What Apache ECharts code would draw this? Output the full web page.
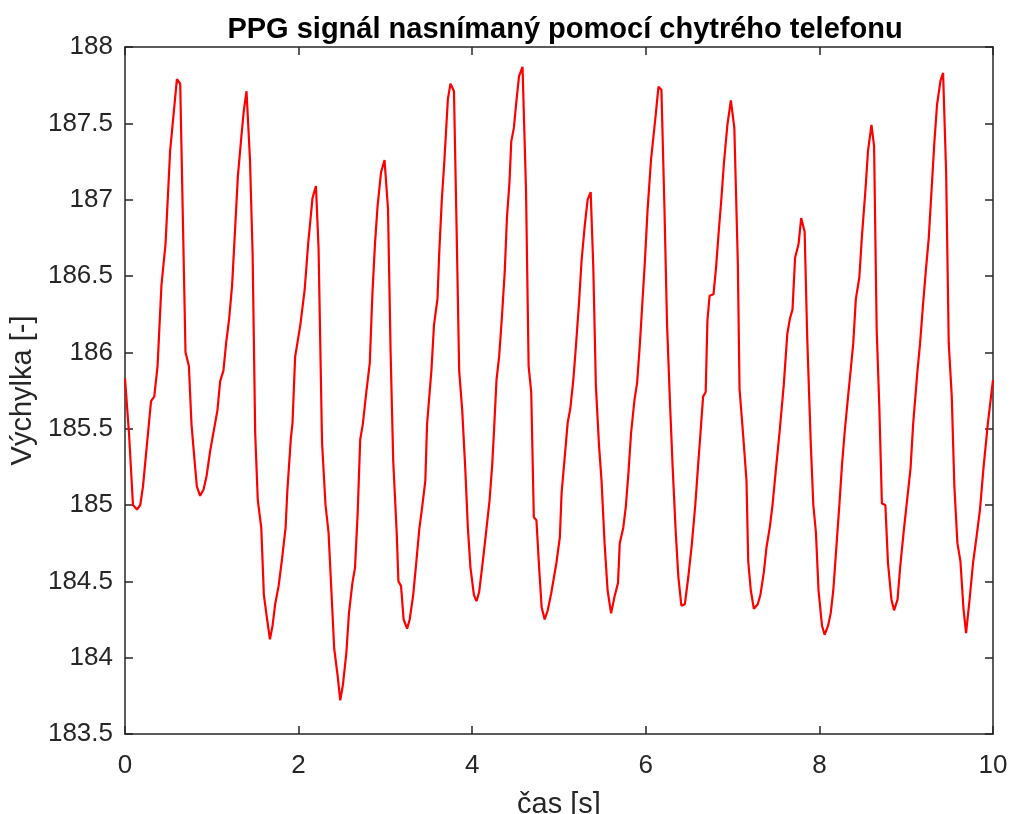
<!DOCTYPE html>
<html>
<head>
<meta charset="utf-8">
<title>PPG signál</title>
<script src="https://cdn.jsdelivr.net/npm/echarts@6/dist/echarts.min.js"></script>
<style>
  html, body { margin: 0; padding: 0; background: #fff; }
  #chart { width: 1010px; height: 814px; }
</style>
</head>
<body>
<div id="chart"></div>
<script>
// cas [s]
var casS = [
  0.00, 0.046, 0.092, 0.138, 0.176, 0.207, 0.245, 0.30, 0.337, 0.375,
  0.42, 0.467, 0.52, 0.598, 0.636, 0.697, 0.736, 0.766, 0.797, 0.828,
  0.866, 0.904, 0.94, 0.98, 1.027, 1.065, 1.096, 1.134, 1.165, 1.20,
  1.234, 1.264, 1.30, 1.34, 1.37, 1.40, 1.44, 1.47, 1.50, 1.53,
  1.57, 1.60, 1.64, 1.67, 1.70, 1.73, 1.77, 1.81, 1.85, 1.87,
  1.91, 1.93, 1.96, 2.02, 2.07, 2.11, 2.16, 2.20, 2.23, 2.27,
  2.31, 2.345, 2.41, 2.45, 2.48, 2.51, 2.55, 2.58, 2.62, 2.65,
  2.68, 2.71, 2.74, 2.78, 2.82, 2.85, 2.88, 2.91, 2.95, 2.99,
  3.03, 3.06, 3.09, 3.13, 3.15, 3.18, 3.21, 3.25, 3.28, 3.32,
  3.36, 3.39, 3.42, 3.46, 3.48, 3.53, 3.56, 3.60, 3.62, 3.65,
  3.68, 3.72, 3.75, 3.79, 3.82, 3.85, 3.885, 3.92, 3.95, 3.98,
  4.02, 4.05, 4.08, 4.12, 4.16, 4.20, 4.23, 4.25, 4.28, 4.31,
  4.34, 4.375, 4.40, 4.43, 4.45, 4.48, 4.51, 4.54, 4.58, 4.62,
  4.65, 4.68, 4.71, 4.74, 4.77, 4.80, 4.835, 4.87, 4.91, 4.97,
  5.01, 5.03, 5.07, 5.10, 5.13, 5.165, 5.195, 5.23, 5.26, 5.295,
  5.33, 5.365, 5.395, 5.425, 5.46, 5.49, 5.525, 5.56, 5.60, 5.64,
  5.68, 5.70, 5.74, 5.77, 5.80, 5.83, 5.87, 5.90, 5.93, 5.96,
  5.99, 6.02, 6.06, 6.115, 6.146, 6.18, 6.215, 6.245, 6.28, 6.31,
  6.345, 6.375, 6.41, 6.45, 6.49, 6.53, 6.57, 6.60, 6.63, 6.66,
  6.69, 6.71, 6.735, 6.78, 6.81, 6.84, 6.87, 6.90, 6.94, 6.98,
  7.02, 7.06, 7.08, 7.12, 7.16, 7.18, 7.21, 7.245, 7.29, 7.32,
  7.36, 7.39, 7.43, 7.46, 7.50, 7.54, 7.59, 7.63, 7.66, 7.69,
  7.72, 7.76, 7.79, 7.83, 7.86, 7.90, 7.93, 7.96, 7.99, 8.03,
  8.06, 8.10, 8.13, 8.16, 8.19, 8.23, 8.26, 8.29, 8.33, 8.36,
  8.39, 8.42, 8.46, 8.49, 8.53, 8.56, 8.60, 8.63, 8.66, 8.69,
  8.72, 8.76, 8.79, 8.83, 8.86, 8.90, 8.93, 8.97, 9.01, 9.05,
  9.08, 9.13, 9.16, 9.195, 9.23, 9.26, 9.295, 9.325, 9.355, 9.395,
  9.425, 9.46, 9.49, 9.525, 9.555, 9.59, 9.625, 9.66, 9.69, 9.73,
  9.77, 9.81, 9.85, 9.89, 9.94, 10.00
];

// vychylka [-]
var vychylka = [
  185.83, 185.47, 185.00, 184.97, 185.00, 185.12, 185.35, 185.68, 185.71, 185.91,
  186.44, 186.71, 187.32, 187.79, 187.76, 186.00, 185.91, 185.53, 185.32, 185.12,
  185.06, 185.10, 185.19, 185.35, 185.50, 185.62, 185.81, 185.88, 186.06, 186.22,
  186.44, 186.76, 187.15, 187.41, 187.59, 187.71, 187.26, 186.65, 185.47, 185.03,
  184.85, 184.41, 184.24, 184.12, 184.21, 184.35, 184.47, 184.65, 184.85, 185.09,
  185.43, 185.54, 185.97, 186.18, 186.41, 186.71, 187.01, 187.09, 186.68, 185.41,
  185.00, 184.82, 184.06, 183.88, 183.72, 183.82, 184.03, 184.29, 184.49, 184.59,
  184.94, 185.43, 185.53, 185.74, 185.93, 186.38, 186.71, 186.96, 187.18, 187.26,
  186.94, 186.00, 185.29, 184.82, 184.50, 184.47, 184.25, 184.19, 184.25, 184.41,
  184.65, 184.84, 184.97, 185.16, 185.53, 185.88, 186.18, 186.35, 186.65, 187.00,
  187.26, 187.66, 187.76, 187.71, 186.82, 185.88, 185.62, 185.24, 184.85, 184.59,
  184.41, 184.37, 184.43, 184.62, 184.82, 185.03, 185.26, 185.47, 185.82, 185.97,
  186.21, 186.53, 186.88, 187.12, 187.38, 187.47, 187.65, 187.81, 187.87, 187.06,
  185.91, 185.74, 184.92, 184.90, 184.60, 184.33, 184.25, 184.31, 184.42, 184.62,
  184.79, 185.08, 185.34, 185.54, 185.63, 185.82, 186.04, 186.32, 186.60, 186.82,
  187.00, 187.05, 186.56, 185.78, 185.40, 185.16, 184.75, 184.44, 184.29, 184.40,
  184.49, 184.75, 184.85, 184.99, 185.21, 185.47, 185.69, 185.80, 186.04, 186.32,
  186.60, 186.93, 187.26, 187.56, 187.74, 187.72, 186.94, 186.18, 185.65, 185.24,
  184.82, 184.53, 184.34, 184.35, 184.53, 184.74, 185.00, 185.24, 185.47, 185.71,
  185.74, 186.21, 186.37, 186.38, 186.56, 186.79, 187.00, 187.24, 187.49, 187.65,
  187.47, 186.59, 185.76, 185.47, 185.16, 184.63, 184.44, 184.32, 184.35, 184.41,
  184.56, 184.72, 184.86, 185.00, 185.24, 185.47, 185.79, 186.12, 186.22, 186.28,
  186.62, 186.71, 186.88, 186.79, 186.09, 185.41, 185.00, 184.82, 184.44, 184.21,
  184.15, 184.21, 184.29, 184.44, 184.68, 185.00, 185.26, 185.47, 185.71, 185.88,
  186.06, 186.35, 186.49, 186.76, 187.06, 187.32, 187.49, 187.35, 186.15, 185.65,
  185.01, 185.00, 184.62, 184.38, 184.31, 184.38, 184.59, 184.82, 185.03, 185.24,
  185.53, 185.88, 186.06, 186.32, 186.56, 186.75, 187.09, 187.38, 187.62, 187.78,
  187.83, 187.18, 186.06, 185.71, 185.12, 184.75, 184.63, 184.32, 184.16, 184.38,
  184.62, 184.79, 184.97, 185.24, 185.53, 185.82
];

var xTicks = { min: 0, max: 10, interval: 2 };
var yTicks = { min: 183.5, max: 188, interval: 0.5 };

var fontFam = "'Liberation Sans', Arial, Helvetica, sans-serif";
var axisColor = "#262626";

var points = [];
for (var i = 0; i < casS.length; i++) {
  points.push([casS[i], vychylka[i]]);
}

var myChart = echarts.init(document.getElementById("chart"));

var frameLine = { show: true, onZero: false, lineStyle: { color: axisColor, width: 1.5 } };
var frameTick = { show: true, inside: true, length: 8, lineStyle: { color: axisColor, width: 1.5 } };

var option = {
  animation: false,
  backgroundColor: "#ffffff",
  title: {
    text: "PPG signál nasnímaný pomocí chytrého telefonu",
    left: 560,
    textAlign: "center",
    top: 10,
    textStyle: {
      fontFamily: fontFam,
      fontSize: 29,
      fontWeight: "bold",
      color: "#000000",
    },
  },
  grid: {
    left: 125,
    right: 17,
    top: 47,
    bottom: 80,
    containLabel: false,
    outerBoundsMode: "none",
  },
  xAxis: [
    {
      type: "value",
      min: xTicks.min,
      max: xTicks.max,
      interval: xTicks.interval,
      position: "bottom",
      name: "čas [s]",
      nameLocation: "middle",
      nameGap: 56,
      nameTextStyle: { fontFamily: fontFam, fontSize: 29, color: axisColor },
      axisLine: frameLine,
      axisTick: frameTick,
      splitLine: { show: false },
      axisLabel: {
        margin: 19,
        fontFamily: fontFam,
        fontSize: 26,
        color: axisColor,
      },
    },
    {
      type: "value",
      min: xTicks.min,
      max: xTicks.max,
      interval: xTicks.interval,
      position: "top",
      axisLine: frameLine,
      axisTick: frameTick,
      splitLine: { show: false },
      axisLabel: { show: false },
    },
  ],
  yAxis: [
    {
      type: "value",
      min: yTicks.min,
      max: yTicks.max,
      interval: yTicks.interval,
      position: "left",
      name: "Výchylka [-]",
      nameLocation: "middle",
      nameGap: 84,
      nameTextStyle: { fontFamily: fontFam, fontSize: 29, color: axisColor },
      axisLine: frameLine,
      axisTick: frameTick,
      splitLine: { show: false },
      axisLabel: {
        margin: 12,
        fontFamily: fontFam,
        fontSize: 26,
        color: axisColor,
      },
    },
    {
      type: "value",
      min: yTicks.min,
      max: yTicks.max,
      interval: yTicks.interval,
      position: "right",
      axisLine: frameLine,
      axisTick: frameTick,
      splitLine: { show: false },
      axisLabel: { show: false },
    },
  ],
  series: [
    {
      type: "line",
      xAxisIndex: 0,
      yAxisIndex: 0,
      data: points,
      showSymbol: false,
      symbol: "none",
      lineStyle: { color: "#ff0000", width: 2.2 },
      z: 1,
    },
  ],
};

myChart.setOption(option);
</script>
</body>
</html>
